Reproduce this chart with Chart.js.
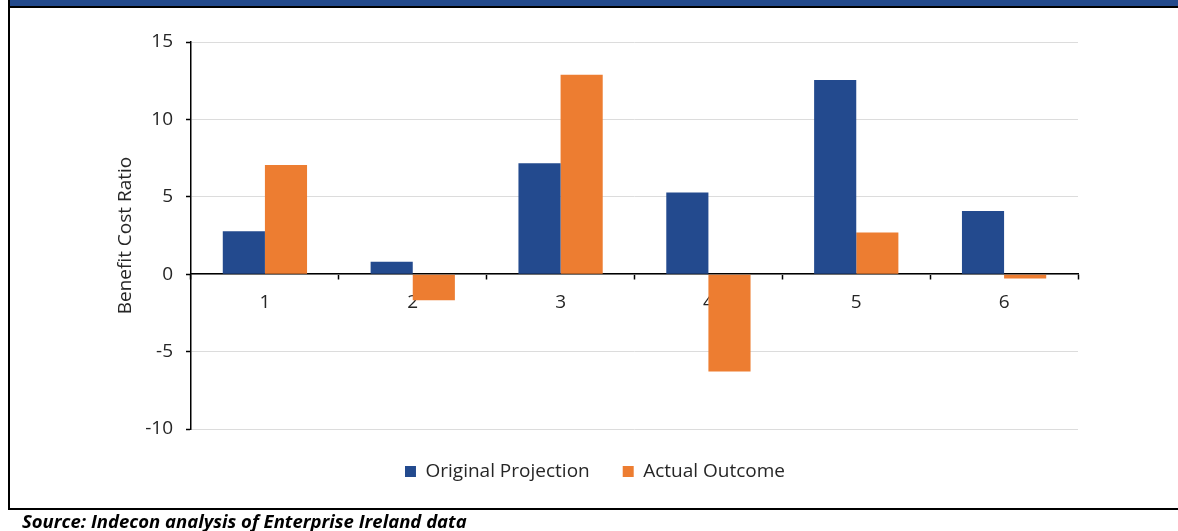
<!DOCTYPE html>
<html>
<head>
<meta charset="utf-8">
<script src="https://cdn.jsdelivr.net/npm/chart.js@4/dist/chart.umd.min.js"></script>
<style>
  html, body { margin: 0; padding: 0; background: #fff; }
  body { width: 1178px; height: 531px; position: relative; overflow: hidden; font-family: "Open Sans", sans-serif; }
  #wrap { position: absolute; left: 0; top: 0; width: 1178px; height: 531px; }
  #header { position: absolute; left: 10px; top: 0; width: 1168px; height: 6px; background: #234A8C; border-bottom: 2px solid #000; }
  #leftrule { position: absolute; left: 8px; top: 0; width: 2px; height: 510px; background: #000; }
  #bottomrule { position: absolute; left: 8px; top: 508px; width: 1170px; height: 2px; background: #000; }
  #source { position: absolute; left: 22px; top: 510px; font-family: "Open Sans", sans-serif; font-weight: bold; font-style: italic; font-size: 18.5px; line-height: 22px; color: #000; white-space: nowrap; }
</style>
</head>
<body>
<div id="wrap"><canvas id="chart"></canvas></div>
<div id="header"></div>
<div id="leftrule"></div>
<div id="bottomrule"></div>
<div id="source">Source: Indecon analysis of Enterprise Ireland data</div>
<script>
// Benefit cost ratios per project
const categories = ['1', '2', '3', '4', '5', '6'];
const originalProjection = [2.78, 0.8, 7.16, 5.28, 12.54, 4.09];
const actualOutcome = [7.05, -1.68, 12.88, -6.29, 2.7, -0.28];
const yTicks = [-10, -5, 0, 5, 10, 15];

const textFont = { family: '"Open Sans", sans-serif', size: 19 };
const textColor = '#262626';

new Chart(document.getElementById('chart'), {
  type: 'bar',
  data: {
    labels: categories,
    datasets: [
      { label: 'Original Projection', data: originalProjection, backgroundColor: '#234A8E', borderWidth: 0 },
      { label: 'Actual Outcome', data: actualOutcome, backgroundColor: '#ED7D31', borderWidth: 0 }
    ]
  },
  options: {
    responsive: true,
    maintainAspectRatio: false,
    animation: false,
    categoryPercentage: 0.57,
    barPercentage: 1.0,
    layout: { padding: { left: 112, right: 100, top: 42, bottom: 40 } },
    plugins: {
      legend: {
        position: 'bottom',
        labels: {
          font: textFont,
          color: textColor,
          boxWidth: 11,
          boxHeight: 11,
          padding: 33
        }
      },
      tooltip: { enabled: false }
    },
    scales: {
      x: {
        position: { y: 0 },
        grid: { drawOnChartArea: false, drawTicks: true, tickLength: 5, tickColor: '#000', tickWidth: 1.5 },
        border: { color: '#000', width: 1.5 },
        ticks: { font: textFont, color: textColor, padding: 12 }
      },
      y: {
        min: -10,
        max: 15,
        afterBuildTicks: (scale) => { scale.ticks = yTicks.map(v => ({ value: v })); },
        afterFit: (scale) => { scale.width = 79; },
        grid: { color: '#dcdcdc', lineWidth: 1, tickColor: '#000', tickLength: 5, tickWidth: 1.5 },
        border: { color: '#000', width: 1.5 },
        ticks: { font: textFont, color: textColor, padding: 13 },
        title: {
          display: true,
          text: 'Benefit Cost Ratio',
          font: textFont,
          color: textColor,
          padding: { top: 2, bottom: 0 }
        }
      }
    }
  }
});
</script>
</body>
</html>
